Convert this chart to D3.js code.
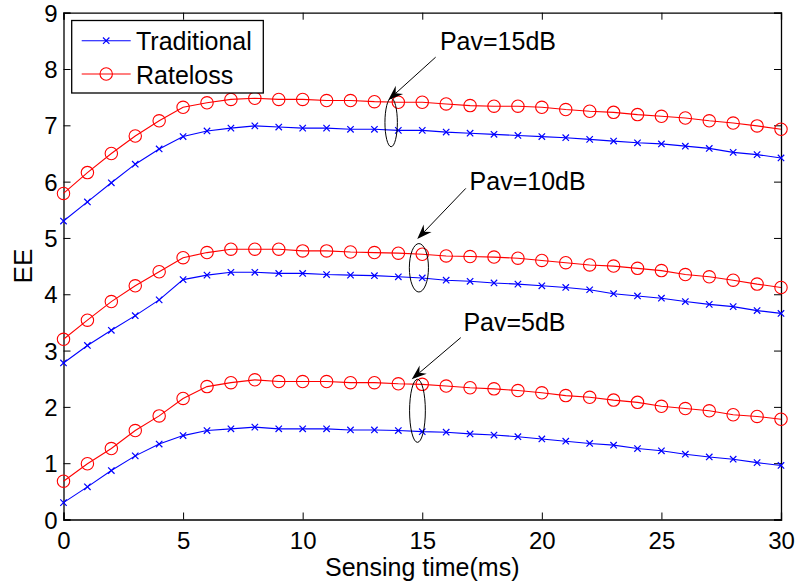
<!DOCTYPE html>
<html>
<head>
<meta charset="utf-8">
<script src="https://cdn.jsdelivr.net/npm/d3@7/dist/d3.min.js"></script>
<style>
  html, body { margin: 0; padding: 0; background: #fff; }
  svg { display: block; font-family: "Liberation Sans", Arial, sans-serif; }
</style>
</head>
<body>
<svg id="chart" width="798" height="587"></svg>
<script>
// ---------- data ----------
const sensingTime = d3.range(0, 31); // 0..30 ms
const trad15 = [5.30,5.64,5.98,6.31,6.58,6.80,6.90,6.95,6.99,6.97,6.95,6.95,6.93,6.93,6.91,6.91,6.88,6.86,6.84,6.82,6.80,6.78,6.75,6.72,6.69,6.67,6.63,6.59,6.52,6.48,6.42];
const rate15 = [5.79,6.16,6.50,6.81,7.08,7.32,7.40,7.46,7.48,7.46,7.46,7.44,7.44,7.42,7.41,7.41,7.38,7.35,7.34,7.34,7.32,7.28,7.25,7.23,7.19,7.16,7.13,7.08,7.04,6.99,6.93];
const trad10 = [2.78,3.09,3.36,3.62,3.90,4.26,4.34,4.39,4.39,4.37,4.37,4.35,4.34,4.33,4.31,4.29,4.25,4.23,4.20,4.18,4.15,4.12,4.08,4.01,3.97,3.93,3.87,3.82,3.78,3.71,3.66];
const rate10 = [3.20,3.54,3.87,4.15,4.40,4.65,4.74,4.80,4.80,4.80,4.77,4.77,4.75,4.74,4.73,4.71,4.68,4.67,4.66,4.64,4.60,4.56,4.52,4.50,4.46,4.42,4.35,4.31,4.25,4.18,4.12];
const trad5  = [0.30,0.58,0.87,1.13,1.34,1.49,1.58,1.61,1.64,1.61,1.61,1.61,1.59,1.59,1.58,1.56,1.55,1.52,1.50,1.47,1.43,1.39,1.35,1.32,1.26,1.22,1.16,1.11,1.07,1.01,0.96];
const rate5  = [0.68,0.99,1.26,1.58,1.84,2.15,2.36,2.43,2.48,2.45,2.45,2.45,2.43,2.43,2.41,2.40,2.37,2.34,2.32,2.29,2.25,2.20,2.17,2.12,2.08,2.01,1.97,1.93,1.86,1.83,1.78];

const xTicks = [0, 5, 10, 15, 20, 25, 30];
const yTicks = [0, 1, 2, 3, 4, 5, 6, 7, 8, 9];
const seriesNames = ["Traditional", "Rateloss"];

// annotation content, in data units
const annLabels = ["Pav=15dB", "Pav=10dB", "Pav=5dB"];
const annText   = [[15.74, 8.33], [16.98, 5.86], [16.72, 3.35]];
const annFrom   = [[15.56, 8.21], [16.82, 5.88], [16.61, 3.23]];
const annTo     = [[13.58, 7.45], [14.79, 4.98], [14.56, 2.49]];
const annEllC   = [[13.70, 7.05], [14.86, 4.47], [14.80, 1.93]];
const annEllR   = [[0.26, 0.43], [0.40, 0.43], [0.33, 0.56]];

// ---------- layout ----------
const W = 798, H = 587;
const m = { left: 63.5, right: 17, top: 12.7, bottom: 67.5 };
const svg = d3.select("#chart");
svg.append("rect").attr("width", W).attr("height", H).attr("fill", "#fff");

const x = d3.scaleLinear().domain([0, 30]).range([m.left, W - m.right]);
const y = d3.scaleLinear().domain([0, 9]).range([H - m.bottom, m.top]);

const BLUE = "#0000ff", RED = "#ff0000";
const tickFont = 24, labelFont = 25;

// ---------- axes (box with inward ticks) ----------
const tickLen = 7;
const gx = svg.append("g").attr("transform", `translate(0,${y(0)})`)
  .call(d3.axisBottom(x).tickValues(xTicks).tickSize(-tickLen).tickPadding(12).tickFormat(d3.format("d")));
const gxTop = svg.append("g").attr("transform", `translate(0,${y(9)})`)
  .call(d3.axisTop(x).tickValues(xTicks).tickSize(-tickLen).tickFormat(""));
const gy = svg.append("g").attr("transform", `translate(${x(0)},0)`)
  .call(d3.axisLeft(y).tickValues(yTicks).tickSize(-tickLen).tickPadding(6).tickFormat(d3.format("d")));
const gyR = svg.append("g").attr("transform", `translate(${x(30)},0)`)
  .call(d3.axisRight(y).tickValues(yTicks).tickSize(-tickLen).tickFormat(""));

[gx, gxTop, gy, gyR].forEach(g => {
  g.select(".domain").attr("stroke", "#000").attr("stroke-width", 1.3);
  g.selectAll(".tick line").attr("stroke", "#000").attr("stroke-width", 1);
  g.selectAll(".tick text").attr("fill", "#000")
    .style("font-family", "'Liberation Sans', Arial, sans-serif").style("font-size", tickFont + "px");
});
// remove end ticks on box edges (they coincide with frame)
gx.selectAll(".tick text").attr("dy", "0.71em");
gy.selectAll(".tick text").attr("dy", "0.36em");

// axis titles
svg.append("text").attr("x", (x(0) + x(30)) / 2).attr("y", 576)
  .attr("text-anchor", "middle").style("font-size", labelFont + "px").attr("fill", "#000")
  .text("Sensing time(ms)");
svg.append("text").attr("transform", `translate(32,${(y(0) + y(9)) / 2}) rotate(-90)`)
  .attr("text-anchor", "middle").style("font-size", "26px").attr("fill", "#000")
  .text("EE");

// ---------- series ----------
const series = [
  { vals: trad15, kind: 0 }, { vals: rate15, kind: 1 },
  { vals: trad10, kind: 0 }, { vals: rate10, kind: 1 },
  { vals: trad5, kind: 0 },  { vals: rate5, kind: 1 }
];
const line = d3.line().x((d, i) => x(sensingTime[i])).y(d => y(d));
const plot = svg.append("g");

function drawCross(g, cx, cy, color) {
  const s = 3.2;
  g.append("path").attr("d", `M${cx - s},${cy - s}L${cx + s},${cy + s}M${cx - s},${cy + s}L${cx + s},${cy - s}`)
    .attr("stroke", color).attr("stroke-width", 1.2).attr("fill", "none");
}
function drawCircle(g, cx, cy, color) {
  g.append("circle").attr("cx", cx).attr("cy", cy).attr("r", 6.2)
    .attr("stroke", color).attr("stroke-width", 1.1).attr("fill", "none");
}

series.forEach(s => {
  const color = s.kind === 0 ? BLUE : RED;
  plot.append("path").datum(s.vals).attr("d", line)
    .attr("fill", "none").attr("stroke", color).attr("stroke-width", 1.1);
  s.vals.forEach((v, i) => {
    if (s.kind === 0) drawCross(plot, x(sensingTime[i]), y(v), color);
    else drawCircle(plot, x(sensingTime[i]), y(v), color);
  });
});

// ---------- annotations ----------
const ann = svg.append("g");
annLabels.forEach((lab, i) => {
  ann.append("ellipse")
    .attr("cx", x(annEllC[i][0])).attr("cy", y(annEllC[i][1]))
    .attr("rx", x(annEllR[i][0]) - x(0)).attr("ry", y(0) - y(annEllR[i][1]))
    .attr("fill", "none").attr("stroke", "#000").attr("stroke-width", 1);
  const x1 = x(annFrom[i][0]), y1 = y(annFrom[i][1]);
  const x2 = x(annTo[i][0]), y2 = y(annTo[i][1]);
  const dx = x2 - x1, dy = y2 - y1, L = Math.hypot(dx, dy);
  const ux = dx / L, uy = dy / L, px = -uy, py = ux;
  const hl = 15, hw = 5.5, notch = 10;
  ann.append("line").attr("x1", x1).attr("y1", y1)
    .attr("x2", x2 - ux * notch).attr("y2", y2 - uy * notch)
    .attr("stroke", "#000").attr("stroke-width", 1);
  const bx = x2 - ux * hl, by = y2 - uy * hl;
  const nx = x2 - ux * notch, ny = y2 - uy * notch;
  ann.append("path")
    .attr("d", `M${x2},${y2}L${bx + px * hw},${by + py * hw}L${nx},${ny}L${bx - px * hw},${by - py * hw}Z`)
    .attr("fill", "#000").attr("stroke", "none");
  ann.append("text").attr("x", x(annText[i][0])).attr("y", y(annText[i][1]))
    .style("font-size", labelFont + "px").attr("fill", "#000").text(lab);
});

// ---------- legend ----------
const lg = svg.append("g");
lg.append("rect").attr("x", 71.7).attr("y", 20.5).attr("width", 191.6).attr("height", 72.5)
  .attr("fill", "#fff").attr("stroke", "#000").attr("stroke-width", 1.3);
const legRowY = [40.7, 74];
seriesNames.forEach((name, i) => {
  const color = i === 0 ? BLUE : RED;
  lg.append("line").attr("x1", 81.7).attr("x2", 130.7).attr("y1", legRowY[i]).attr("y2", legRowY[i])
    .attr("stroke", color).attr("stroke-width", 1.1);
  if (i === 0) drawCross(lg, 106.2, legRowY[i], color); else drawCircle(lg, 106.2, legRowY[i], color);
  lg.append("text").attr("x", 136).attr("y", legRowY[i] + 9.5)
    .style("font-size", labelFont + "px").attr("fill", "#000").text(name);
});
</script>
</body>
</html>
